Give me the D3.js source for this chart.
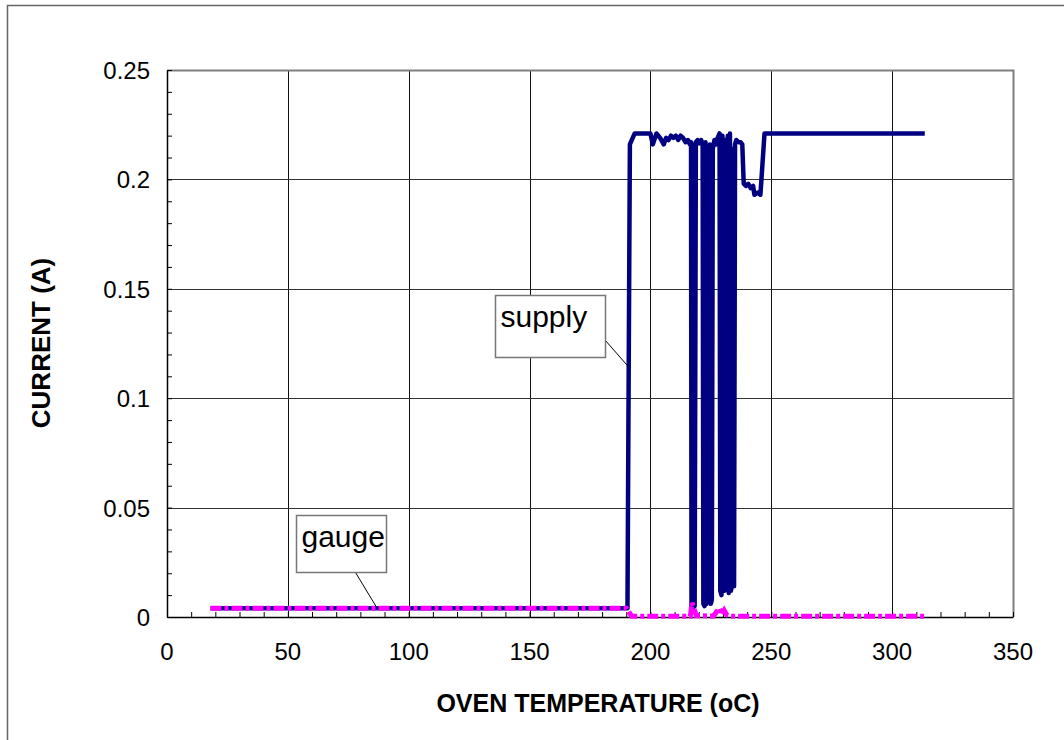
<!DOCTYPE html>
<html lang="en">
<head>
<meta charset="UTF-8">
<title>Oven current</title>
<script src="https://cdn.jsdelivr.net/npm/d3@7"></script>
<style>
  body { margin: 0; background: #fff; }
  text { font-family: "Liberation Sans", Arial, sans-serif; }
</style>
</head>
<body>
<svg id="chart" width="1064" height="740"></svg>
<script>
// data
var supplyTemp = [18, 190.5, 191.5, 193.5, 200, 201, 202.5, 204, 205.5, 206.5, 207.5, 208.5, 209.5, 210.5, 211.5, 212.5, 213.5, 214.5, 215.5, 216.3,
  216.8, 217.0, 217.5, 217.9, 218.3, 218.8, 219.5, 220.3, 221.0,
  221.6, 221.9, 222.4, 222.8, 223.2, 223.7, 224.1, 224.6, 225.0, 225.4, 225.8, 226.5, 227.2, 227.8,
  228.6, 228.9, 229.4, 229.8, 230.1, 230.6, 231.0, 231.4, 232.0, 232.4, 232.9, 233.3, 233.8, 234.2, 234.6, 235.0,
  235.5, 236.5, 237.3, 238.0, 238.6, 239.5, 240.5, 241.5, 242.5, 243.0, 244.5, 245.5, 247.2, 313.5];
var supplyCurrent = [0.004, 0.004, 0.216, 0.221, 0.221, 0.216, 0.221, 0.219, 0.216, 0.219, 0.218, 0.220, 0.219, 0.220, 0.218, 0.220, 0.219, 0.217, 0.218, 0.216,
  0.217, 0.004, 0.003, 0.216, 0.005, 0.217, 0.218, 0.2165, 0.218,
  0.216, 0.006, 0.005, 0.217, 0.006, 0.215, 0.007, 0.216, 0.006, 0.008, 0.214, 0.218, 0.216, 0.219,
  0.221, 0.012, 0.010, 0.220, 0.014, 0.012, 0.218, 0.013, 0.220, 0.011, 0.221, 0.012, 0.015, 0.214, 0.014, 0.216,
  0.218, 0.217, 0.217, 0.216, 0.198, 0.197, 0.198, 0.196, 0.197, 0.193, 0.194, 0.193, 0.221, 0.221];

var gaugeTemp = [18, 190, 192.3, 216.5, 217.2, 219.0, 226, 228.5, 229.5, 230.5, 231.5, 233, 313.5];
var gaugeCurrent = [0.004, 0.004, 0.0003, 0.0003, 0.0065, 0.0006, 0.0004, 0.004, 0.001, 0.003, 0.001, 0.0004, 0.0003];

var xTicks = [0, 50, 100, 150, 200, 250, 300, 350];
var yTicks = [0, 0.05, 0.1, 0.15, 0.2, 0.25];

var svg = d3.select('#chart');
var plotL = 167, plotR = 1013, plotT = 70, plotB = 617;

var x = d3.scaleLinear().domain([0, 350]).range([plotL, plotR]);
var y = d3.scaleLinear().domain([0, 0.25]).range([plotB, plotT]);

// outer frame
svg.append('rect').attr('x', 7.5).attr('y', 5.5).attr('width', 1070).attr('height', 760)
  .attr('fill', 'none').attr('stroke', '#666').attr('stroke-width', 1.5);

// grid
svg.append('g').selectAll('line').data(xTicks.slice(1, -1)).join('line')
  .attr('x1', d => Math.round(x(d)) + 0.5).attr('x2', d => Math.round(x(d)) + 0.5)
  .attr('y1', plotT).attr('y2', plotB).attr('stroke', '#111').attr('stroke-width', 1);
svg.append('g').selectAll('line').data(yTicks.slice(1, -1)).join('line')
  .attr('x1', plotL).attr('x2', plotR)
  .attr('y1', d => Math.round(y(d)) + 0.5).attr('y2', d => Math.round(y(d)) + 0.5)
  .attr('stroke', '#333').attr('stroke-width', 1.2);

// top and right plot edge
svg.append('path').attr('d', 'M' + plotL + ',' + (plotT + 0.5) + 'H' + (plotR + 0.5) + 'V' + plotB)
  .attr('fill', 'none').attr('stroke', '#808080').attr('stroke-width', 2);

// axes, minor ticks pointing in
var xAxis = d3.axisBottom(x).tickValues(d3.range(0, 351, 10)).tickSize(-5).tickSizeOuter(0).tickFormat('');
svg.append('g').attr('transform', 'translate(0,' + plotB + ')').call(xAxis)
  .call(g => g.select('.domain').attr('stroke', '#000').attr('stroke-width', 1.5));
var yAxis = d3.axisLeft(y).tickValues(d3.range(0, 0.2501, 0.01)).tickSize(-5).tickSizeOuter(0).tickFormat('');
svg.append('g').attr('transform', 'translate(' + plotL + ',0)').call(yAxis)
  .call(g => g.select('.domain').attr('stroke', '#000').attr('stroke-width', 1.5));

// tick labels
svg.append('g').selectAll('text').data(xTicks).join('text')
  .attr('x', d => x(d)).attr('y', 660).attr('text-anchor', 'middle')
  .attr('font-size', 24).text(d => d);
svg.append('g').selectAll('text').data(yTicks).join('text')
  .attr('x', 150).attr('y', d => y(d) + 9).attr('text-anchor', 'end')
  .attr('font-size', 24).text(d => d);

// axis titles
svg.append('text').attr('x', 598).attr('y', 712).attr('text-anchor', 'middle')
  .attr('font-size', 25).attr('font-weight', 'bold').text('OVEN TEMPERATURE (oC)');
svg.append('text').attr('transform', 'translate(50,343) rotate(-90)').attr('text-anchor', 'middle')
  .attr('font-size', 26).attr('font-weight', 'bold').text('CURRENT (A)');

// series
var line = d3.line().x(d => x(d[0])).y(d => y(d[1]));
var supply = d3.zip(supplyTemp, supplyCurrent);
var gauge = d3.zip(gaugeTemp, gaugeCurrent);

svg.append('path').datum(supply).attr('d', line)
  .attr('fill', 'none').attr('stroke', '#000080').attr('stroke-width', 4.5)
  .attr('stroke-linejoin', 'round');
svg.append('path').datum(gauge).attr('d', line)
  .attr('fill', 'none').attr('stroke', '#ff00ff').attr('stroke-width', 5)
  .attr('stroke-dasharray', '11,3,4,3');

// callouts
function callout(bx, by, bw, bh, label, lx1, ly1, lx2, ly2) {
  svg.append('line').attr('x1', lx1).attr('y1', ly1).attr('x2', lx2).attr('y2', ly2)
    .attr('stroke', '#000').attr('stroke-width', 1);
  svg.append('rect').attr('x', bx).attr('y', by).attr('width', bw).attr('height', bh)
    .attr('fill', '#fff').attr('stroke', '#777').attr('stroke-width', 1.5);
  svg.append('text').attr('x', bx + 5).attr('y', by + 31).attr('font-size', 30).text(label);
}
callout(495.5, 295.5, 110, 62, 'supply', 605, 340, x(191.2), y(0.114));
callout(296.5, 515.5, 90, 57, 'gauge', 354, 570, 377, 608);
</script>
</body>
</html>
